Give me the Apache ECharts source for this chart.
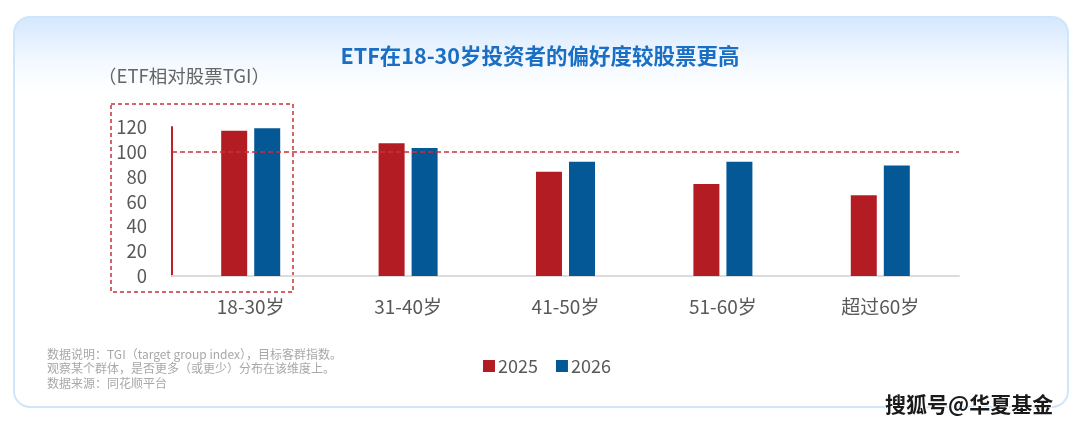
<!DOCTYPE html>
<html>
<head>
<meta charset="utf-8">
<script src="https://cdn.jsdelivr.net/npm/echarts@6/dist/echarts.min.js"></script>
<style>
  html, body { margin: 0; padding: 0; background: #fff; }
  #main { width: 1080px; height: 428px; }
</style>
</head>
<body>
<div id="main"></div>
<script>
// 年龄段
var ageGroups = ['18-30岁', '31-40岁', '41-50岁', '51-60岁', '超过60岁'];
var tgi2025 = [117, 107, 84, 74, 65];
var tgi2026 = [119, 103, 92, 92, 89];
var seriesNames = ['2025', '2026'];
var yTicks = { min: 0, max: 120, interval: 20 };
var baseLine = 100;

var noteLines = [
    '数据说明：TGI（target group index），目标客群指数。',
    '观察某个群体，是否更多（或更少）分布在该维度上。',
    '数据来源：同花顺平台'
];

var FONT = '"Noto Sans CJK SC", "Noto Sans", sans-serif';

var myChart = echarts.init(document.getElementById('main'));

var option = {
    textStyle: { fontFamily: FONT },
    animation: false,
    color: ['#b41c24', '#045896'],
    title: {
        text: 'ETF在18-30岁投资者的偏好度较股票更高',
        left: 'center',
        top: 40,
        textStyle: { fontFamily: FONT, fontSize: 21.5, fontWeight: 'bold', color: '#1a6fc4' }
    },
    legend: {
        data: seriesNames,
        left: 478,
        top: 352,
        icon: 'rect',
        itemWidth: 12,
        itemHeight: 12,
        itemGap: 18,
        textStyle: { fontFamily: FONT, fontSize: 18, color: '#595959', padding: [0, 0, 0, -2] }
    },
    grid: { left: 172, right: 121, top: 127, bottom: 152 },
    xAxis: {
        type: 'category',
        data: ageGroups,
        axisLine: { lineStyle: { color: '#dcdcdc', width: 2 } },
        axisTick: { show: false },
        axisLabel: { fontFamily: FONT, fontSize: 19, color: '#595959', margin: 21 }
    },
    yAxis: {
        type: 'value',
        min: yTicks.min,
        max: yTicks.max,
        interval: yTicks.interval,
        axisLine: { show: true, lineStyle: { color: '#c0202a', width: 2 } },
        axisTick: { show: false },
        splitLine: { show: false },
        axisLabel: { fontFamily: FONT, fontSize: 18.5, color: '#595959', margin: 25 }
    },
    graphic: [
        {
            type: 'rect',
            z: -10,
            shape: { x: 14, y: 17, width: 1054, height: 390, r: 16 },
            style: {
                fill: new echarts.graphic.LinearGradient(0, 0, 0, 1, [
                    { offset: 0, color: '#d3e7fd' },
                    { offset: 0.12, color: '#f4f9ff' },
                    { offset: 0.2, color: '#ffffff' },
                    { offset: 1, color: '#ffffff' }
                ]),
                stroke: '#cfe6fa',
                lineWidth: 2
            }
        },
        {
            type: 'rect',
            shape: { x: 111, y: 104, width: 182, height: 188 },
            style: { fill: 'none', stroke: '#c8303a', lineWidth: 1.5, lineDash: [4, 3] }
        },
        {
            type: 'text',
            left: 98,
            top: 67,
            style: { text: '（ETF相对股票TGI）', fontFamily: FONT, fontSize: 18.5, fill: '#666666' }
        },
        {
            type: 'text',
            left: 47,
            top: 347,
            style: {
                text: noteLines.join('\n'),
                fontFamily: FONT,
                fontSize: 12,
                lineHeight: 14.5,
                fill: '#a8a8a8'
            }
        },
        {
            type: 'text',
            left: 884,
            top: 393,
            style: {
                text: '搜狐号@华夏基金',
                fontFamily: FONT,
                fontSize: 21,
                fontWeight: 'bold',
                fill: '#1a1a1a',
                stroke: '#ffffff',
                lineWidth: 2
            }
        }
    ],
    series: [
        {
            name: seriesNames[0],
            type: 'bar',
            barWidth: 26,
            barGap: '27%',
            data: tgi2025,
            markLine: {
                silent: true,
                symbol: 'none',
                label: { show: false },
                lineStyle: { color: '#c8303a', type: [5, 3], width: 1.5 },
                data: [{ yAxis: baseLine }]
            }
        },
        {
            name: seriesNames[1],
            type: 'bar',
            barWidth: 26,
            data: tgi2026
        }
    ]
};

myChart.setOption(option);
</script>
</body>
</html>
